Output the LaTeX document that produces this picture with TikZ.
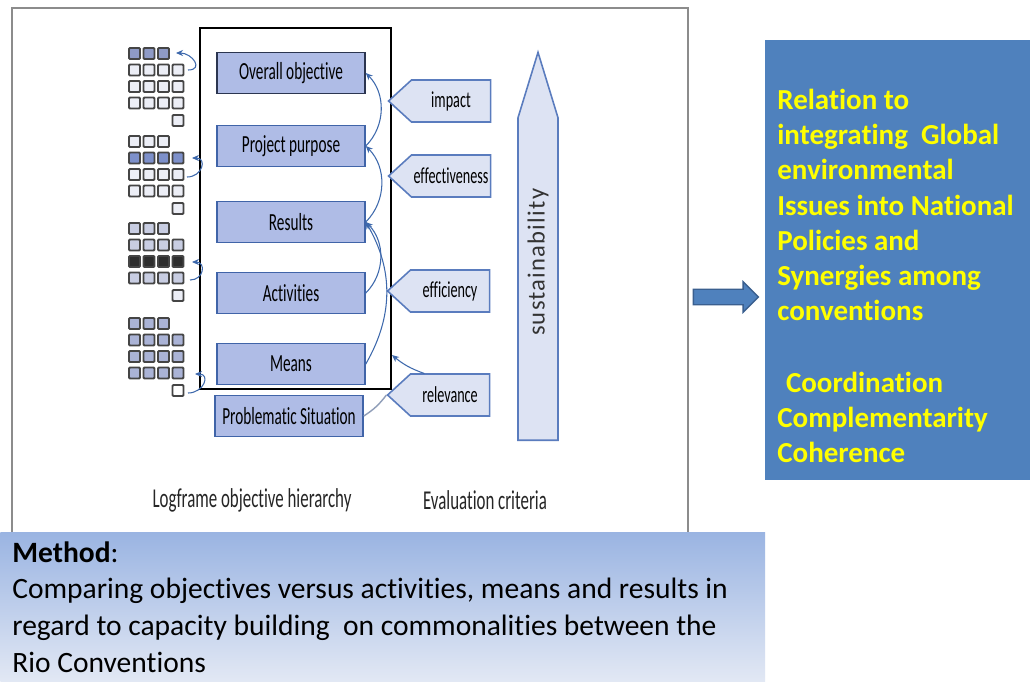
\documentclass[tikz,border=0pt]{standalone}
\usepackage{fontspec}
\setmainfont[Ligatures=NoCommon]{Carlito}
\newfontfamily\narrowfont[FakeStretch=0.62,Ligatures=NoCommon]{Carlito}
\newfontfamily\spacedfont[LetterSpace=5,Ligatures=NoCommon]{Carlito}
\usepackage{tikz}
\usetikzlibrary{positioning,shapes.symbols,shapes.arrows,arrows.meta}

\definecolor{framegray}{HTML}{8C8C8C}
\definecolor{boxfill}{HTML}{AFBCE6}
\definecolor{boxedge}{HTML}{4064A8}
\definecolor{topedge}{HTML}{2B3550}
\definecolor{critfill}{HTML}{DDE3F3}
\definecolor{critedge}{HTML}{5A7CBE}
\definecolor{linkblue}{HTML}{3D68AC}
\definecolor{probgray}{HTML}{8F9DB8}
\definecolor{cellgray}{HTML}{454545}
\definecolor{cellhi}{HTML}{8E9AC6}
\definecolor{celllight}{HTML}{ECEEF6}
\definecolor{cellmid}{HTML}{7D90CA}
\definecolor{celllav}{HTML}{C8CDE2}
\definecolor{celldark}{HTML}{2E2E2E}
\definecolor{cellblue}{HTML}{AAB3D6}
\definecolor{panelblue}{HTML}{4F81BD}
\definecolor{arrowedge}{HTML}{3A5F8F}
\definecolor{relyellow}{HTML}{FFFF00}
\definecolor{methtop}{HTML}{9AB4E2}
\definecolor{methbot}{HTML}{E2E8F4}

\begin{document}
\begin{tikzpicture}[x=0.02cm,y=-0.02cm,
    level/.style={draw=boxedge,line width=0.9pt,fill=boxfill,minimum width=2.96cm,minimum height=0.82cm,inner sep=1pt,font=\narrowfont\fontsize{14}{15}\selectfont},
    crit/.style={signal,signal to=west,signal pointer angle=85,draw=critedge,line width=0.9pt,fill=critfill,minimum width=2.04cm,minimum height=0.84cm,inner sep=1pt,font=\narrowfont\fontsize{13}{15}\selectfont},
    link/.style={draw=linkblue,line width=0.6pt,-{Stealth[length=4pt,width=3.5pt]}},
    cell/.style={draw=cellgray,line width=1.1pt,rounded corners=0.6pt},
    caption/.style={font=\narrowfont\fontsize{15.5}{17}\selectfont,text=black!85}]

\useasboundingbox (0,0) rectangle (1030,681);
\fill[white] (0,0) rectangle (1030,681);

% frames
\draw[framegray,line width=1pt] (12,8) rectangle (688,560);
\node[draw=black,line width=0.9pt,minimum width=3.82cm,minimum height=7.22cm] (inner) at (295.5,208.5) {};

% logframe levels
\node[level,draw=topedge] (oo) at (291,73) {Overall objective};
\node[level] (pp) at (291,146) {Project purpose};
\node[level] (res) at (291,222) {Results};
\node[level] (act) at (291,293) {Activities};
\node[level] (means) at (291,364) {Means};
\node[level] (prob) at (289,416) {Problematic Situation};

% evaluation criteria
\node[crit] (imp) at (451,101) {impact};
\node[crit] (eff) at (451,176) {effectiveness};
\node[crit] (effi) at (450,291) {efficiency};
\node[crit] (rel) at (450,395) {relevance};
\node[signal,signal to=east,signal pointer angle=34,rotate=90,draw=critedge,fill=critfill,line width=0.9pt,
      minimum width=7.76cm,minimum height=0.8cm,font=\spacedfont\fontsize{14}{16}\selectfont,text=black!80] (sus) at (538,279) {\hspace{19pt}sustainability};

% cell groups
\foreach \b/\ca/\cb/\cc/\cd/\ce in {48/cellhi/celllight/celllight/celllight/celllight,
    136/celllight/cellmid/celllight/celllight/celllight,
    223/celllav/celllav/celldark/celllav/celllight,
    318/cellblue/cellblue/cellblue/cellblue/white}{
  \foreach \i in {0,1,2}
    \draw[cell,fill=\ca] (129+14.5*\i,\b) rectangle ++(11,11);
  \foreach \i in {0,...,3}{
    \draw[cell,fill=\cb] (129+14.5*\i,\b+16.5) rectangle ++(11,11);
    \draw[cell,fill=\cc] (129+14.5*\i,\b+33) rectangle ++(11,11);
    \draw[cell,fill=\cd] (129+14.5*\i,\b+49.5) rectangle ++(11,11);
  }
  \draw[cell,fill=\ce] (172.5,\b+67) rectangle ++(11,11);
}

% pointers to the cell rows
\coordinate (g1s) at (188,70);  \coordinate (g1t) at (176,53);
\coordinate (g2s) at (187,177); \coordinate (g2t) at (192,158);
\coordinate (g3s) at (190,280); \coordinate (g3t) at (192,262);
\coordinate (g4s) at (188,393); \coordinate (g4t) at (195,374);
\foreach \g in {1,...,4}
  \draw[link] (g\g s) to[out=0,in=0,looseness=2] (g\g t);

% links between levels
\draw[link] (pp.east) to[bend right=45] (oo.east);
\draw[link] (res.east) to[bend right=45] (pp.east);
\draw[link] (act.east) to[bend right=45] (res.east);
\draw[link] (means.east) to[bend right=30] (res.east);
\draw[probgray,line width=0.8pt] (prob.east) to[bend right=10] (rel.west);
\coordinate (relin) at (392,355);
\draw[link] (rel.140) to[bend left=10] (relin);

% captions
\node[caption] (lfh) at (252,500) {Logframe objective hierarchy};
\node[caption] (evc) at (485,500) {Evaluation criteria};

% right panel
\node[fill=panelblue,minimum width=5.3cm,minimum height=8.8cm,inner sep=0pt] (panel) at (897.5,260) {};
\node[single arrow,draw=arrowedge,fill=panelblue,line width=0.8pt,minimum height=1.3cm,
      single arrow head extend=0.15cm,inner xsep=0pt,inner ysep=4pt] (bigarrow) at (722,297) {};
\node[anchor=north west,inner sep=0pt,align=left,text=relyellow,font=\bfseries\fontsize{16.5}{20}\selectfont] (reltext) at (777,89)
  {Relation to\\integrating\ \ Global\\environmental\\Issues into National\\Policies and\\Synergies among\\conventions\\[21pt]
   \hspace{0.3em}Coordination\\Complementarity\\Coherence};

% method
\node[anchor=north west,minimum width=15.3cm,minimum height=2.98cm,inner sep=0pt,top color=methtop,bottom color=methbot] (methbox) at (0,532) {};
\node[anchor=north west,inner sep=0pt,align=left,font=\fontsize{16.8}{21}\selectfont] (methtext) at (12,541)
  {\textbf{Method}:\\Comparing objectives versus activities, means and results in\\regard to capacity building\ \ on commonalities between the\\Rio Conventions};
\end{tikzpicture}
\end{document}
